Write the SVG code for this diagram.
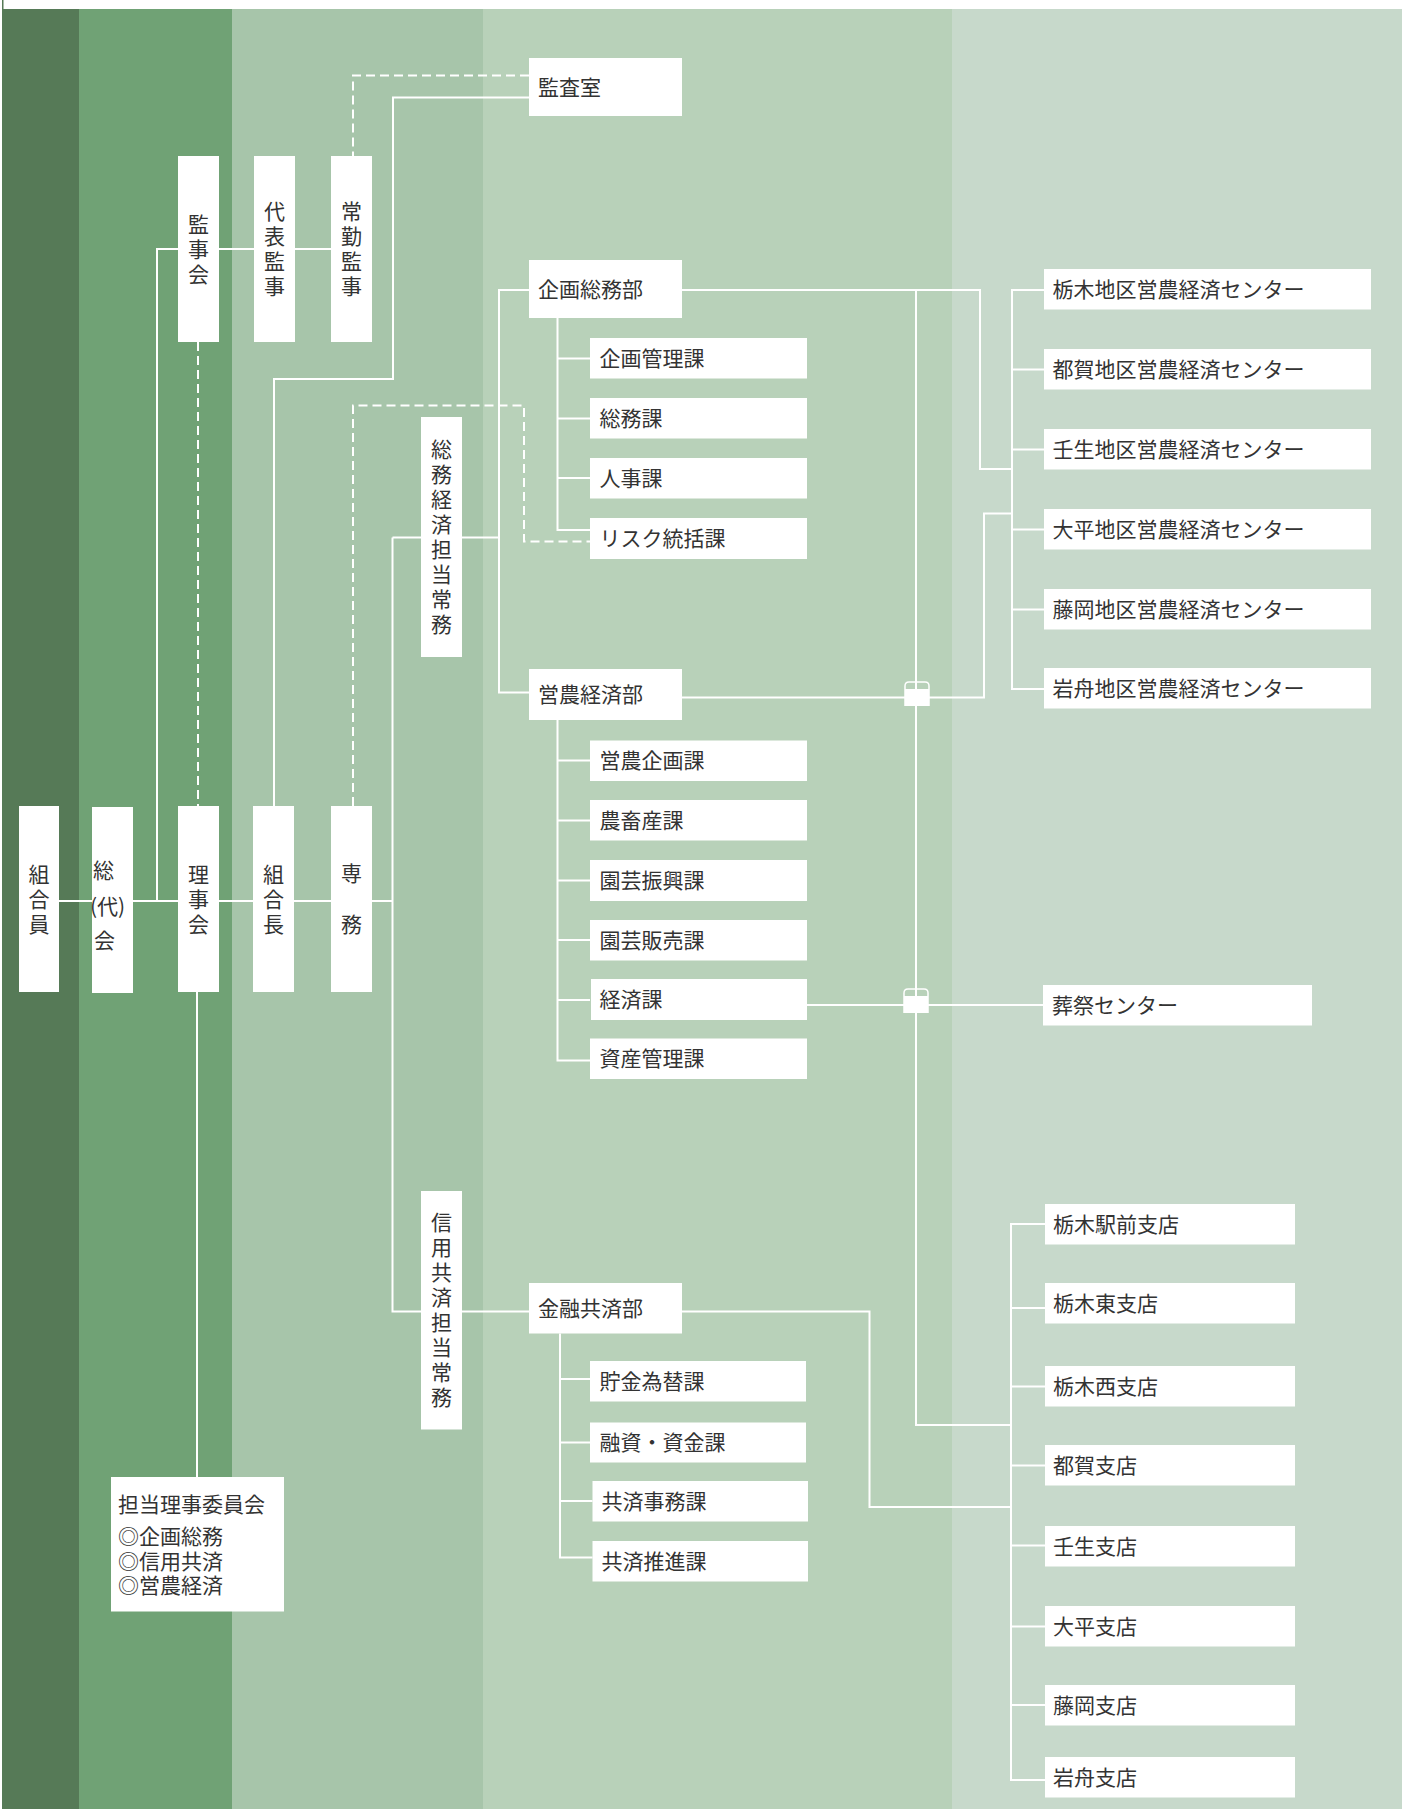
<svg xmlns="http://www.w3.org/2000/svg" width="1410" height="1809" viewBox="0 0 1410 1809">
<style>
.box{fill:#ffffff}
.t{font-family:"Noto Sans CJK JP","Noto Sans",sans-serif;font-size:21px;fill:#333333}
.v{font-family:"Noto Sans CJK JP","Noto Sans",sans-serif;font-size:21px;fill:#333333;text-anchor:middle;writing-mode:vertical-rl;letter-spacing:4px}
.c{font-family:"Noto Sans CJK JP","Noto Sans",sans-serif;font-size:21px;fill:#333333;text-anchor:middle}
.ln{fill:none;stroke:#ffffff;stroke-width:2}
.dash{fill:none;stroke:#ffffff;stroke-width:2;stroke-dasharray:9 5}
</style>
<rect x="0" y="0" width="1410" height="1809" fill="#ffffff"/>
<g id="background">
<rect x="2" y="0" width="1.5" height="9" fill="#567a57"/>
<rect x="2" y="9" width="77" height="1800" fill="#567a57"/>
<rect x="79" y="9" width="153" height="1800" fill="#70a275"/>
<rect x="232" y="9" width="251" height="1800" fill="#a7c5aa"/>
<rect x="483" y="9" width="469" height="1800" fill="#b8d1b9"/>
<rect x="952" y="9" width="450" height="1800" fill="#c7d9cb"/>
</g>
<g id="connectors">
<path class="dash" d="M529,75.5 H353 V156"/>
<path class="ln" d="M529,97.5 H393 V379 H274 V806"/>
<path class="ln" d="M331,249 H157 V901"/>
<path class="dash" d="M198,342 V806"/>
<path class="ln" d="M59,901 H392.5"/>
<path class="dash" d="M353,806 V405.5 H524 V541.5 H590"/>
<path class="ln" d="M392.5,537.5 V1311.5 H529"/>
<path class="ln" d="M392.5,537.5 H499"/>
<path class="ln" d="M529,290 H499 V692.5 H529"/>
<path class="ln" d="M557.5,318 V530 H590 M557.5,358.5 H590 M557.5,418.5 H590 M557.5,478 H590"/>
<path class="ln" d="M557.5,720 V1060.5 H590 M557.5,760.5 H590 M557.5,820.5 H590 M557.5,880.5 H590 M557.5,940 H590 M557.5,1000 H590"/>
<path class="ln" d="M560,1333.5 V1557.5 H592.5 M560,1379 H590 M560,1442.5 H590 M560,1501 H592.5"/>
<path class="ln" d="M682,290 H980 V469 H1012"/>
<path class="ln" d="M916,290 V1425 H1011"/>
<path class="ln" d="M1044,290 H1012 V689 H1044 M1012,369.5 H1044 M1012,449.5 H1044 M1012,529.5 H1044 M1012,609.5 H1044"/>
<path class="ln" d="M682,697.5 H984 V513.5 H1012"/>
<path class="ln" d="M807,1005 H1043"/>
<path class="ln" d="M682,1311.5 H869.5 V1507 H1011"/>
<path class="ln" d="M1045,1224 H1011 V1780 H1045 M1011,1308 H1045 M1011,1386.5 H1045 M1011,1465.5 H1045 M1011,1545.5 H1045 M1011,1626.5 H1045 M1011,1705 H1045"/>
<path class="ln" d="M197,992 V1477"/>
<g id="bridge1">
<path d="M905,706 V686 Q905,682 909,682 H925 Q929,682 929,686 V706" fill="none" stroke="#ffffff" stroke-width="1.5"/>
<rect x="905" y="689" width="24" height="17" fill="#ffffff"/>
</g>
<g id="bridge2">
<path d="M904,1013 V993 Q904,989 908,989 H924 Q928,989 928,993 V1013" fill="none" stroke="#ffffff" stroke-width="1.5"/>
<rect x="904" y="996" width="24" height="17" fill="#ffffff"/>
</g>
</g>
<g id="n-kansashitsu"><rect class="box" x="529" y="58" width="153" height="58"/><text class="t" x="538" y="94.5">監査室</text></g>
<g id="n-kanjikai"><rect class="box" x="178" y="156" width="41" height="186"/><text class="v" x="198.5" y="251">監事会</text></g>
<g id="n-daihyokanji"><rect class="box" x="254" y="156" width="41" height="186"/><text class="v" x="274.5" y="251">代表監事</text></g>
<g id="n-jokinkanji"><rect class="box" x="331" y="156" width="41" height="186"/><text class="v" x="351.5" y="251">常勤監事</text></g>
<g id="n-kikakusomubu"><rect class="box" x="529" y="260" width="153" height="58"/><text class="t" x="538" y="296.5">企画総務部</text></g>
<g id="n-kikakukanrika"><rect class="box" x="590" y="338" width="217" height="40.5"/><text class="t" x="599.5" y="365.5">企画管理課</text></g>
<g id="n-somuka"><rect class="box" x="590" y="398" width="217" height="40.5"/><text class="t" x="599.5" y="425.5">総務課</text></g>
<g id="n-jinjika"><rect class="box" x="590" y="458" width="217" height="40.5"/><text class="t" x="599.5" y="485.5">人事課</text></g>
<g id="n-riskka"><rect class="box" x="590" y="518" width="217" height="41"/><text class="t" x="599.5" y="546">リスク統括課</text></g>
<g id="n-somukeizaijomu"><rect class="box" x="421" y="417" width="41" height="240"/><text class="v" x="441.5" y="539">総務経済担当常務</text></g>
<g id="n-einokeizaibu"><rect class="box" x="529" y="669" width="153" height="51"/><text class="t" x="538" y="702">営農経済部</text></g>
<g id="n-einokikakuka"><rect class="box" x="590" y="740.5" width="217" height="40.5"/><text class="t" x="599.5" y="768">営農企画課</text></g>
<g id="n-nochikusanka"><rect class="box" x="590" y="800" width="217" height="40.5"/><text class="t" x="599.5" y="827.5">農畜産課</text></g>
<g id="n-engeishinkoka"><rect class="box" x="590" y="860" width="217" height="41"/><text class="t" x="599.5" y="888">園芸振興課</text></g>
<g id="n-engeihanbaika"><rect class="box" x="590" y="920" width="217" height="40.5"/><text class="t" x="599.5" y="947.5">園芸販売課</text></g>
<g id="n-keizaika"><rect class="box" x="591" y="979" width="216" height="41"/><text class="t" x="599.5" y="1007">経済課</text></g>
<g id="n-shisankanrika"><rect class="box" x="590" y="1038.5" width="217" height="40.5"/><text class="t" x="599.5" y="1066">資産管理課</text></g>
<g id="n-kumiaiin"><rect class="box" x="19" y="806" width="40" height="186"/><text class="v" x="39" y="901">組合員</text></g>
<g id="n-sodaikai"><rect class="box" x="92" y="807" width="41" height="186"/><text class="c" x="103.5" y="878">総</text><text class="c" x="107.5" y="913.5">(代)</text><text class="c" x="104.5" y="948">会</text></g>
<g id="n-rijikai"><rect class="box" x="178" y="806" width="41" height="186"/><text class="v" x="198.5" y="901">理事会</text></g>
<g id="n-kumiaicho"><rect class="box" x="253" y="806" width="41" height="186"/><text class="v" x="273.5" y="901">組合長</text></g>
<g id="n-senmu"><rect class="box" x="331" y="806" width="41" height="186"/><text class="v" x="351.5" y="914" style="letter-spacing:30px">専務</text></g>
<g id="n-tochigi-c"><rect class="box" x="1044" y="269" width="327" height="40.5"/><text class="t" x="1052.5" y="297">栃木地区営農経済センター</text></g>
<g id="n-tsuga-c"><rect class="box" x="1044" y="349" width="327" height="40.5"/><text class="t" x="1052.5" y="377">都賀地区営農経済センター</text></g>
<g id="n-mibu-c"><rect class="box" x="1044" y="429" width="327" height="40.5"/><text class="t" x="1052.5" y="457">壬生地区営農経済センター</text></g>
<g id="n-ohira-c"><rect class="box" x="1044" y="509" width="327" height="40.5"/><text class="t" x="1052.5" y="537">大平地区営農経済センター</text></g>
<g id="n-fujioka-c"><rect class="box" x="1044" y="589" width="327" height="40.5"/><text class="t" x="1052.5" y="617">藤岡地区営農経済センター</text></g>
<g id="n-iwafune-c"><rect class="box" x="1044" y="668" width="327" height="40.5"/><text class="t" x="1052.5" y="696">岩舟地区営農経済センター</text></g>
<g id="n-sosai"><rect class="box" x="1043" y="985" width="269" height="40.5"/><text class="t" x="1052" y="1013">葬祭センター</text></g>
<g id="n-shinyokyosaijomu"><rect class="box" x="421" y="1191" width="41" height="238.5"/><text class="v" x="441.5" y="1312">信用共済担当常務</text></g>
<g id="n-kinyukyosaibu"><rect class="box" x="529" y="1283" width="153" height="50.5"/><text class="t" x="538" y="1316">金融共済部</text></g>
<g id="n-chokinkawaseka"><rect class="box" x="590" y="1361" width="216" height="40.5"/><text class="t" x="599.5" y="1388.5">貯金為替課</text></g>
<g id="n-yushika"><rect class="box" x="590" y="1422.5" width="216" height="40"/><text class="t" x="599.5" y="1450">融資・資金課</text></g>
<g id="n-kyosaijimuka"><rect class="box" x="592.5" y="1481" width="215.5" height="40.5"/><text class="t" x="601.5" y="1508.5">共済事務課</text></g>
<g id="n-kyosaisuishinka"><rect class="box" x="592.5" y="1541" width="215.5" height="40.5"/><text class="t" x="601.5" y="1568.5">共済推進課</text></g>
<g id="n-tantoriji"><rect class="box" x="111" y="1477" width="173" height="134.5"/><text class="t"><tspan x="118" y="1511.5">担当理事委員会</tspan><tspan x="118" y="1543.5">◎企画総務</tspan><tspan x="118" y="1568.5">◎信用共済</tspan><tspan x="118" y="1593">◎営農経済</tspan></text></g>
<g id="n-ekimae"><rect class="box" x="1045" y="1204" width="250" height="40.5"/><text class="t" x="1053" y="1231.5">栃木駅前支店</text></g>
<g id="n-higashi"><rect class="box" x="1045" y="1283" width="250" height="40.5"/><text class="t" x="1053" y="1310.5">栃木東支店</text></g>
<g id="n-nishi"><rect class="box" x="1045" y="1366" width="250" height="40.5"/><text class="t" x="1053" y="1393.5">栃木西支店</text></g>
<g id="n-tsuga"><rect class="box" x="1045" y="1445" width="250" height="40.5"/><text class="t" x="1053" y="1472.5">都賀支店</text></g>
<g id="n-mibu"><rect class="box" x="1045" y="1526" width="250" height="40.5"/><text class="t" x="1053" y="1553.5">壬生支店</text></g>
<g id="n-ohira"><rect class="box" x="1045" y="1606" width="250" height="40.5"/><text class="t" x="1053" y="1633.5">大平支店</text></g>
<g id="n-fujioka"><rect class="box" x="1045" y="1685" width="250" height="40.5"/><text class="t" x="1053" y="1712.5">藤岡支店</text></g>
<g id="n-iwafune"><rect class="box" x="1045" y="1757" width="250" height="40.5"/><text class="t" x="1053" y="1784.5">岩舟支店</text></g>
</svg>
